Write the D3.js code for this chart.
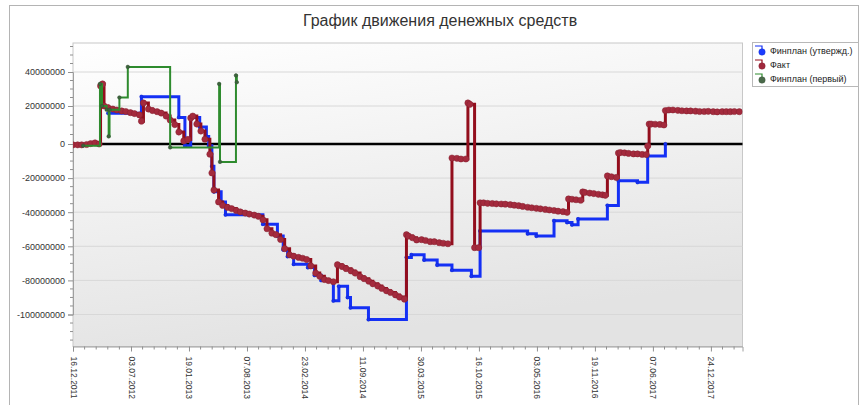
<!DOCTYPE html>
<html>
<head>
<meta charset="utf-8">
<script src="https://cdn.jsdelivr.net/npm/d3@7"></script>
<style>
  body { margin: 0; background: #fff; }
  svg { display: block; }
</style>
</head>
<body>
<div id="chart-area"></div>
<script>
// --- data (values in millions of roubles) ---
const chartTitle = "График движения денежных средств";
const seriesNames = ["Финплан (утвержд.)", "Факт", "Финплан (первый)"];
const xTickLabels = ["16.12.2011", "03.07.2012", "19.01.2013", "07.08.2013", "23.02.2014", "11.09.2014",
  "30.03.2015", "16.10.2015", "03.05.2016", "19.11.2016", "07.06.2017", "24.12.2017"];
const yTickValues = [40000000, 20000000, 0, -20000000, -40000000, -60000000, -80000000, -100000000];
const UNIT = 1e6;

const planApproved = [
  ["2012-04-15", 16.2], ["2012-08-08", 25.5], ["2012-12-15", 14], ["2013-01-05", -1], ["2013-01-25", 14],
  ["2013-02-25", 9], ["2013-03-20", 4], ["2013-03-28", -1], ["2013-04-08", -13], ["2013-04-15", -28],
  ["2013-05-10", -34], ["2013-05-25", -41.5], ["2013-10-01", -47], ["2013-11-20", -54], ["2013-12-10", -62],
  ["2013-12-25", -66], ["2014-01-15", -70.5], ["2014-03-05", -72.5], ["2014-03-28", -77], ["2014-04-20", -80],
  ["2014-06-01", -92], ["2014-06-20", -83.5], ["2014-07-20", -90], ["2014-07-30", -96], ["2014-09-30", -103],
  ["2015-02-08", -66.5], ["2015-02-25", -65], ["2015-04-10", -68], ["2015-05-25", -71], ["2015-07-15", -74],
  ["2015-09-20", -77.5], ["2015-10-20", -51], ["2016-04-01", -52.6], ["2016-05-01", -54], ["2016-07-01", -45],
  ["2016-08-15", -46], ["2016-09-01", -47.4], ["2016-09-22", -44], ["2017-01-01", -36], ["2017-02-08", -21.5],
  ["2017-04-15", -22.5], ["2017-05-20", -7], ["2017-07-20", 0]
];

const fact = [
  ["2011-12-16", -0.5], ["2012-01-01", -0.5], ["2012-01-15", -0.5], ["2012-02-01", -0.3], ["2012-02-15", 0.2],
  ["2012-03-01", 0.6], ["2012-03-15", 0], ["2012-03-20", 31.8], ["2012-03-27", 33], ["2012-04-01", 20],
  ["2012-04-15", 19], ["2012-05-01", 18.4], ["2012-05-15", 17.9], ["2012-06-01", 17.4], ["2012-06-15", 17.1],
  ["2012-07-01", 16.5], ["2012-07-15", 16], ["2012-08-01", 15.3], ["2012-08-08", 12], ["2012-08-15", 21.8],
  ["2012-09-01", 18.4], ["2012-09-15", 17.6], ["2012-10-01", 17], ["2012-10-15", 16.3], ["2012-11-01", 14.7],
  ["2012-11-15", 12.6], ["2012-12-01", 10.2], ["2012-12-15", 6.3], ["2013-01-01", 1.6], ["2013-01-15", 2.4],
  ["2013-01-25", 13.7], ["2013-02-01", 14.7], ["2013-02-15", 10.5], ["2013-03-01", 6.8], ["2013-03-15", 2.5],
  ["2013-04-01", -6], ["2013-04-08", -17], ["2013-04-15", -27], ["2013-05-01", -34], ["2013-05-15", -36],
  ["2013-06-01", -37.2], ["2013-06-15", -37.9], ["2013-07-01", -39], ["2013-07-15", -39.8], ["2013-08-01", -40.5],
  ["2013-08-15", -41.1], ["2013-09-01", -41.7], ["2013-09-15", -42.4], ["2013-10-01", -44.5], ["2013-10-15", -49.7],
  ["2013-11-01", -52.3], ["2013-11-15", -53.2], ["2013-12-01", -56], ["2013-12-15", -61.4], ["2014-01-01", -65],
  ["2014-01-15", -65.8], ["2014-02-01", -66.5], ["2014-02-15", -67], ["2014-03-01", -67.8], ["2014-03-15", -71.5],
  ["2014-04-01", -75.7], ["2014-04-15", -77.6], ["2014-05-01", -79.5], ["2014-05-15", -80.1], ["2014-06-01", -80.8],
  ["2014-06-15", -70.8], ["2014-07-01", -71.9], ["2014-07-15", -73.1], ["2014-08-01", -74.5], ["2014-08-15", -75.7],
  ["2014-09-01", -77.8], ["2014-09-15", -79], ["2014-10-01", -80.5], ["2014-10-15", -82], ["2014-11-01", -83.3],
  ["2014-11-15", -84.7], ["2014-12-01", -86.1], ["2014-12-15", -87.1], ["2015-01-01", -88.5], ["2015-01-15", -89.8],
  ["2015-02-01", -91], ["2015-02-08", -53.2], ["2015-02-15", -54], ["2015-03-01", -55], ["2015-03-15", -56.3],
  ["2015-04-01", -56.1], ["2015-04-15", -56.6], ["2015-05-01", -57.3], ["2015-05-15", -57.3], ["2015-06-01", -57.9],
  ["2015-06-15", -58.2], ["2015-07-01", -58.5], ["2015-07-15", -8.2], ["2015-08-01", -8.4], ["2015-08-15", -8.8],
  ["2015-09-01", -8.8], ["2015-09-08", 21.8], ["2015-09-15", 21], ["2015-10-01", -60.8], ["2015-10-15", -60.8],
  ["2015-10-20", -34.5], ["2015-11-01", -34.5], ["2015-11-15", -34.8], ["2015-12-01", -34.9], ["2015-12-15", -35.1],
  ["2016-01-01", -35.2], ["2016-01-15", -35.3], ["2016-02-01", -35.6], ["2016-02-15", -35.9], ["2016-03-01", -36.2],
  ["2016-03-15", -36.6], ["2016-04-01", -37.1], ["2016-04-15", -37.4], ["2016-05-01", -37.7], ["2016-05-15", -38],
  ["2016-06-01", -38.4], ["2016-06-15", -38.7], ["2016-07-01", -39], ["2016-07-15", -39.4], ["2016-08-01", -39.7],
  ["2016-08-15", -40.1], ["2016-08-20", -32.2], ["2016-09-01", -32.4], ["2016-09-15", -32.7], ["2016-10-01", -33],
  ["2016-10-08", -28.1], ["2016-10-15", -28.4], ["2016-11-01", -28.8], ["2016-11-15", -29.1], ["2016-12-01", -29.5],
  ["2016-12-15", -29.8], ["2016-12-25", -30.1], ["2017-01-01", -18.7], ["2017-01-15", -19.2], ["2017-02-01", -19.6],
  ["2017-02-08", -5.3], ["2017-02-15", -5], ["2017-03-01", -5.2], ["2017-03-15", -5.5], ["2017-04-01", -5.8],
  ["2017-04-15", -5.8], ["2017-05-01", -6.1], ["2017-05-15", -6.2], ["2017-05-20", -1.2], ["2017-05-25", 10.5],
  ["2017-06-01", 10.5], ["2017-06-15", 10.4], ["2017-07-01", 10.3], ["2017-07-15", 10], ["2017-07-20", 17.6],
  ["2017-08-01", 17.9], ["2017-08-15", 17.9], ["2017-09-01", 17.7], ["2017-09-15", 17.5], ["2017-10-01", 17.4],
  ["2017-10-15", 17.4], ["2017-11-01", 17.3], ["2017-11-15", 17.1], ["2017-12-01", 17.1], ["2017-12-15", 17.2],
  ["2018-01-01", 17], ["2018-01-15", 16.9], ["2018-02-01", 17], ["2018-02-15", 17], ["2018-03-01", 17],
  ["2018-03-15", 17.1], ["2018-04-01", 17]
];

const planFirst = [
  ["2012-01-20", -1], ["2012-03-18", 33], ["2012-03-25", 20], ["2012-04-10", 18], ["2012-04-17", 4],
  ["2012-04-20", 18], ["2012-05-24", 25], ["2012-06-22", 43], ["2012-11-15", -2], ["2013-05-03", 33],
  ["2013-05-06", -10.5], ["2013-06-30", 38], ["2013-07-03", 34]
];

// --- layout ---
const margin = { top: 43, left: 73 };
const width = 669.5;
const height = 303.5;

const parseIso = d3.utcParse("%Y-%m-%d");
const parseRu = d3.utcParse("%d.%m.%Y");
const fmtRu = d3.utcFormat("%d.%m.%Y");

const x = d3.scaleUtc()
  .domain([parseIso("2011-12-16"), parseIso("2018-04-12")])
  .range([0, width]);

// the value axis in the original is not evenly spaced around zero
const y = d3.scaleLinear()
  .domain([-100000000, 0, 20000000, 40000000])
  .range([271.5, 101, 63, 29]);

const series = [
  { name: seriesNames[0], data: planApproved, line: "#1430f5", width: 3, dot: "#1430f5", r: 1.7, legend: "#1a3cff" },
  { name: seriesNames[1], data: fact, line: "#930e1d", width: 3, dot: "#a42a3d", r: 3.1, legend: "#a0283c" },
  { name: seriesNames[2], data: planFirst, line: "#2e8b2e", width: 2, dot: "#3d633d", r: 1.8, legend: "#4a6a4a" }
];
series.forEach(s => {
  s.points = s.data.map(d => ({ date: parseIso(d[0]), value: d[1] * UNIT }));
});

const svg = d3.select("#chart-area")
  .append("svg")
  .attr("width", 864)
  .attr("height", 405)
  .style("font-family", "'Liberation Sans', Arial, sans-serif");

const defs = svg.append("defs");
const grad = defs.append("linearGradient")
  .attr("id", "bg")
  .attr("x1", 0).attr("y1", 0).attr("x2", 0.3).attr("y2", 1);
grad.append("stop").attr("offset", "0%").attr("stop-color", "#ffffff");
grad.append("stop").attr("offset", "100%").attr("stop-color", "#e3e3e3");

defs.append("clipPath")
  .attr("id", "clip")
  .append("rect")
  .attr("x", 0)
  .attr("y", 0)
  .attr("width", width)
  .attr("height", height);

// outer frame
svg.append("rect")
  .attr("x", 9.5).attr("y", 5.5)
  .attr("width", 849).attr("height", 420)
  .attr("fill", "none")
  .attr("stroke", "#b4b4b4");

svg.append("text")
  .attr("x", 440)
  .attr("y", 26)
  .attr("text-anchor", "middle")
  .attr("fill", "#333")
  .style("font-size", "16px")
  .text(chartTitle);

const chart = svg.append("g")
  .attr("transform", "translate(" + margin.left + "," + margin.top + ")");

chart.append("rect")
  .attr("width", width)
  .attr("height", height)
  .attr("fill", "url(#bg)")
  .attr("stroke", "#c8c8c8");

// horizontal grid
chart.append("g")
  .selectAll("line")
  .data(yTickValues)
  .join("line")
  .attr("x1", 0).attr("x2", width)
  .attr("y1", d => y(d)).attr("y2", d => y(d))
  .attr("stroke", "#d8d8d8");

// y axis
const yAxis = d3.axisLeft(y)
  .tickValues(yTickValues)
  .tickSize(5)
  .tickPadding(3)
  .tickFormat(d => String(d));

const yG = chart.append("g").attr("class", "y-axis").call(yAxis);

const yMinor = d3.range(-115000000, 56000000, 5000000).filter(v => v % 20000000 !== 0);
yG.selectAll(".minor")
  .data(yMinor)
  .join("line")
  .attr("class", "minor")
  .attr("x1", -3).attr("x2", 0)
  .attr("y1", d => y(d)).attr("y2", d => y(d));

// x axis
const xTicks = xTickLabels.map(parseRu);
const xAxis = d3.axisBottom(x)
  .tickValues(xTicks)
  .tickSize(5)
  .tickFormat(fmtRu);

const xG = chart.append("g")
  .attr("class", "x-axis")
  .attr("transform", "translate(0," + height + ")")
  .call(xAxis);

xG.selectAll("text")
  .attr("transform", "rotate(90)")
  .attr("x", 10)
  .attr("y", 0)
  .attr("dy", "0.35em")
  .attr("text-anchor", "start")
  .style("font-size", "8.5px");

const xMinor = [];
xTicks.forEach(t => {
  for (let k = 1; k < 5; k++) xMinor.push(d3.utcDay.offset(t, k * 40));
});
xG.selectAll(".minor")
  .data(xMinor.filter(d => d <= x.domain()[1]))
  .join("line")
  .attr("class", "minor")
  .attr("x1", d => x(d)).attr("x2", d => x(d))
  .attr("y1", 0).attr("y2", 3);

[yG, xG].forEach(g => {
  g.select(".domain").attr("stroke", "#a0a0a0");
  g.selectAll("line").attr("stroke", "#909090");
  g.selectAll("text").attr("fill", "#333");
});
yG.selectAll("text").style("font-size", "9px");

// zero line
chart.append("line")
  .attr("x1", 0).attr("x2", width)
  .attr("y1", y(0)).attr("y2", y(0))
  .attr("stroke", "#000")
  .attr("stroke-width", 2.5);

// series
const line = d3.line()
  .curve(d3.curveStepAfter)
  .x(d => x(d.date))
  .y(d => y(d.value));

const plot = chart.append("g").attr("clip-path", "url(#clip)");

series.forEach(s => {
  const g = plot.append("g");
  g.append("path")
    .datum(s.points)
    .attr("d", line)
    .attr("fill", "none")
    .attr("stroke", s.line)
    .attr("stroke-width", s.width)
    .attr("stroke-linejoin", "miter");
  g.selectAll("circle")
    .data(s.points)
    .join("circle")
    .attr("cx", d => x(d.date))
    .attr("cy", d => y(d.value))
    .attr("r", s.r)
    .attr("fill", s.dot)
    .attr("stroke", d3.color(s.dot).darker(0.6))
    .attr("stroke-width", 0.5);
});

// legend
const legend = svg.append("g").attr("transform", "translate(752,42)");
legend.append("rect")
  .attr("x", 0.5).attr("y", 0.5)
  .attr("width", 106).attr("height", 44)
  .attr("fill", "#fff")
  .attr("stroke", "#b8b8b8");

const item = legend.selectAll(".item")
  .data(series)
  .join("g")
  .attr("class", "item")
  .attr("transform", (d, i) => "translate(0," + (9 + i * 14) + ")");

item.append("path")
  .attr("d", "M3,-5H10V1")
  .attr("fill", "none")
  .attr("stroke", d => d.line)
  .attr("stroke-width", 1.2);
item.append("circle")
  .attr("cx", 10).attr("cy", 1)
  .attr("r", 3.2)
  .attr("fill", d => d.legend)
  .attr("stroke", d => d3.color(d.legend).darker(0.5))
  .attr("stroke-width", 0.5);
item.append("text")
  .attr("x", 18)
  .attr("y", 3)
  .attr("fill", "#222")
  .style("font-size", "9px")
  .text(d => d.name);
</script>
</body>
</html>
